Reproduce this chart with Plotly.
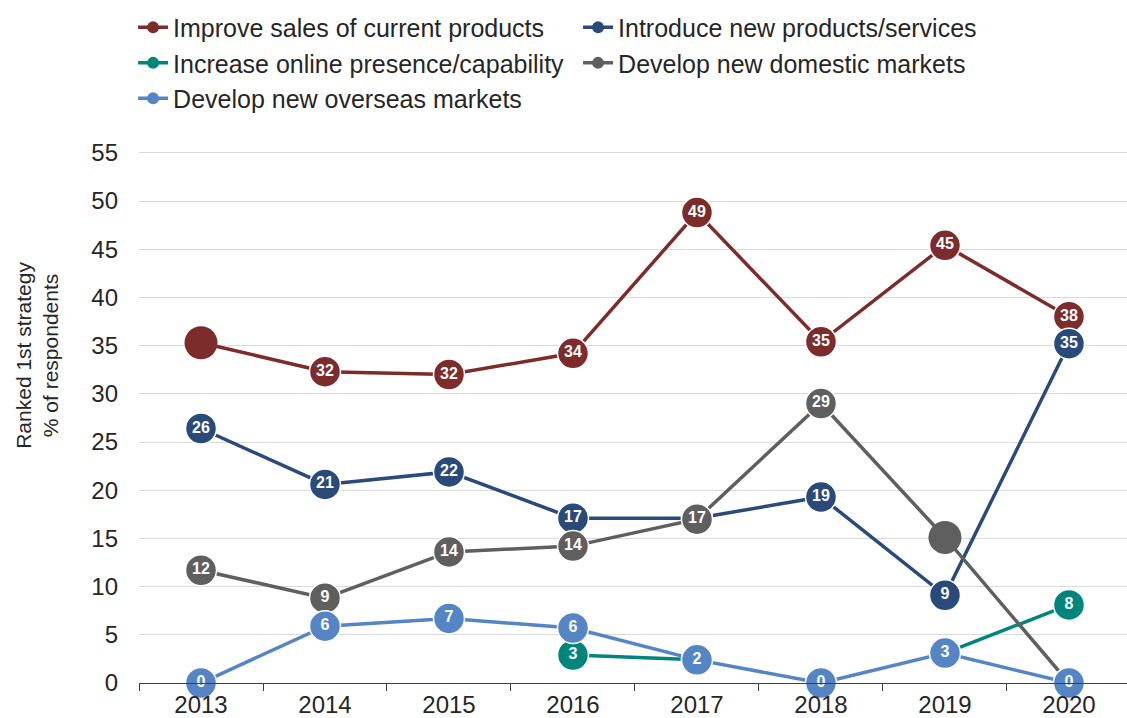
import plotly.graph_objects as go

years = ["2013", "2014", "2015", "2016", "2017", "2018", "2019", "2020"]

series_names = [
    "Improve sales of current products",
    "Introduce new products/services",
    "Increase online presence/capability",
    "Develop new domestic markets",
    "Develop new overseas markets",
]

improve_sales = [35.3, 32.3, 32.0, 34.2, 48.8, 35.4, 45.4, 38.0]
introduce_new = [26.4, 20.6, 21.9, 17.1, 17.1, 19.3, 9.1, 35.2]
online_presence = [None, None, None, 2.9, 2.4, None, 3.1, 8.1]
domestic_markets = [11.7, 8.8, 13.6, 14.2, 17.0, 29.0, 15.1, 0.0]
overseas_markets = [0.0, 5.9, 6.7, 5.7, 2.4, 0.0, 3.1, 0.0]

# points whose data label is not shown in the original
hidden_labels = {
    "Improve sales of current products": ["2013"],
    "Develop new domestic markets": ["2019"],
}

colors = ["#7B2C2B", "#2A4A7A", "#00857D", "#5F5F5F", "#5585C5"]
all_values = [improve_sales, introduce_new, online_presence, domestic_markets, overseas_markets]

FONT = "Liberation Sans, Arial, sans-serif"

fig = go.Figure()

for name, vals, col in zip(series_names, all_values, colors):
    hid = hidden_labels.get(name, [])
    texts, sizes, lw = [], [], []
    for yr, v in zip(years, vals):
        if v is None:
            texts.append("")
            sizes.append(31)
            lw.append(1.5)
        elif yr in hid:
            texts.append("")
            sizes.append(33)
            lw.append(0)
        else:
            texts.append("<b>%d</b>" % int(v + 0.5))
            sizes.append(31)
            lw.append(1.5)
    fig.add_trace(go.Scatter(
        x=years, y=vals, mode="lines+markers+text", name=name,
        text=texts, textposition="middle center",
        textfont=dict(color="white", size=16, family=FONT),
        line=dict(color=col, width=3.5),
        marker=dict(color=col, size=sizes, opacity=1, line=dict(color="white", width=lw)),
        showlegend=False, cliponaxis=False, connectgaps=False,
    ))

# legend entries
for name, col in zip(series_names, colors):
    fig.add_trace(go.Scatter(
        x=[None], y=[None], mode="lines+markers", name=name,
        line=dict(color=col, width=3.5),
        marker=dict(color=col, size=12, opacity=1),
        showlegend=True,
    ))

fig.add_annotation(
    text="Ranked 1st strategy<br>% of respondents",
    xref="paper", yref="paper", x=-0.104, y=0.612,
    textangle=-90, showarrow=False, xanchor="center", yanchor="middle",
    font=dict(size=21, family=FONT, color="#262626"),
)

fig.update_layout(
    width=1127, height=718,
    margin=dict(l=139, r=0, t=148, b=33),
    paper_bgcolor="white", plot_bgcolor="white",
    font=dict(family=FONT, color="#262626"),
    legend=dict(
        orientation="h", x=-0.006, xanchor="left", y=1.268, yref="paper", yanchor="top",
        font=dict(size=25, family=FONT, color="#262626"),
        entrywidth=400, entrywidthmode="pixels",
        traceorder="normal", tracegroupgap=0, itemclick=False,
        bgcolor="rgba(0,0,0,0)",
    ),
    xaxis=dict(
        type="category", range=[-0.5, 7.468],
        showgrid=False, showline=True, linecolor="#404040", linewidth=1,
        ticks="outside", ticklen=7, tickcolor="#404040", tickson="boundaries",
        tickfont=dict(size=24, family=FONT, color="#262626"),
        fixedrange=True,
    ),
    yaxis=dict(
        range=[0, 55.5], tickvals=list(range(0, 60, 5)),
        showgrid=True, gridcolor="#D9D9D9", gridwidth=1,
        zeroline=False, showline=False, ticks="",
        ticklabelstandoff=20,
        tickfont=dict(size=24, family=FONT, color="#262626"),
        fixedrange=True,
    ),
)

fig.write_html("out.html")
